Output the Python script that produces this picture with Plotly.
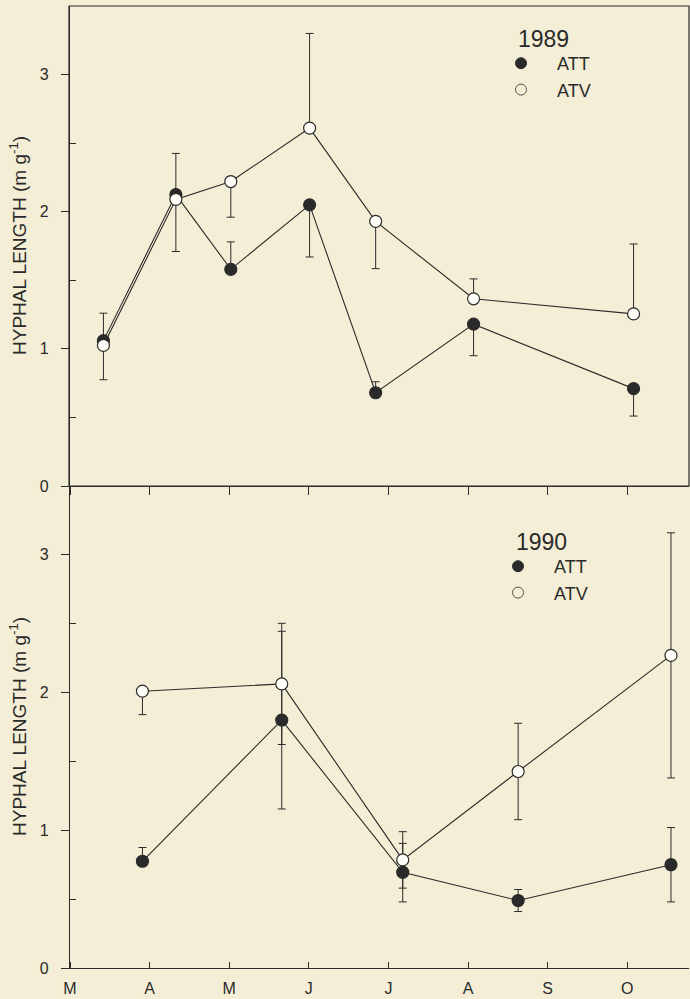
import plotly.graph_objects as go

# ---------------- data ----------------
month_labels = ["M", "A", "M", "J", "J", "A", "S", "O"]
month_ticks = [0, 1, 2, 3, 4, 5, 6, 7]

# 1989 (months after 1 March)
x89 = [0.42, 1.33, 2.02, 3.01, 3.84, 5.07, 7.08]
att89 = [1.06, 2.125, 1.58, 2.05, 0.68, 1.18, 0.71]
att89_plus = [0.20, 0.30, 0.20, 0.0, 0.08, 0.0, 0.0]
att89_minus = [0.0, 0.0, 0.0, 0.38, 0.0, 0.23, 0.20]
atv89 = [1.025, 2.09, 2.22, 2.61, 1.93, 1.365, 1.255]
atv89_plus = [0.0, 0.0, 0.0, 0.69, 0.0, 0.145, 0.51]
atv89_minus = [0.25, 0.38, 0.26, 0.0, 0.345, 0.0, 0.0]

# 1990
x90 = [0.91, 2.66, 4.18, 5.63, 7.55]
att90 = [0.775, 1.80, 0.695, 0.49, 0.75]
att90_plus = [0.10, 0.645, 0.21, 0.08, 0.27]
att90_minus = [0.0, 0.645, 0.215, 0.08, 0.27]
atv90 = [2.01, 2.063, 0.785, 1.427, 2.27]
atv90_plus = [0.0, 0.44, 0.205, 0.35, 0.89]
atv90_minus = [0.17, 0.44, 0.205, 0.35, 0.89]

# ---------------- style ----------------
W, H = 690, 999
BG = "#f5eed6"
INK = "#2a2a2a"
FONT = "Arial, Liberation Sans, sans-serif"

def px_x(p):
    return p / W

def px_y(p):
    return 1 - p / H

XDOM = [px_x(62), px_x(689)]
XRANGE = [(62 - 70) / 79.6, (689 - 70) / 79.6]
YPOS = px_x(69)
TOP_DOM = [px_y(486), px_y(6)]
BOT_DOM = [px_y(968), px_y(486)]

fig = go.Figure()

def add_series(x, y, plus, minus, filled, xa, ya, name, legend):
    fig.add_trace(go.Scatter(
        x=x, y=y, mode="lines+markers", xaxis=xa, yaxis=ya,
        showlegend=False,
        line=dict(color=INK, width=1.1),
        marker=dict(size=12, color=INK if filled else "#fffef8",
                    line=dict(color=INK, width=1.2)),
        error_y=dict(type="data", symmetric=False, array=plus, arrayminus=minus,
                     color=INK, thickness=1, width=4),
        cliponaxis=False,
    ))
    fig.add_trace(go.Scatter(
        x=[None], y=[None], mode="markers", xaxis=xa, yaxis=ya, name=name,
        legend=legend, showlegend=True,
        marker=dict(size=11, color=INK if filled else "rgba(0,0,0,0)",
                    line=dict(color="#555" if not filled else INK, width=1)),
    ))

add_series(x89, att89, att89_plus, att89_minus, True, "x", "y", "ATT", "legend")
add_series(x89, atv89, atv89_plus, atv89_minus, False, "x", "y", "ATV", "legend")
add_series(x90, att90, att90_plus, att90_minus, True, "x2", "y2", "ATT", "legend2")
add_series(x90, atv90, atv90_plus, atv90_minus, False, "x2", "y2", "ATV", "legend2")

axcommon = dict(showgrid=False, zeroline=False, linecolor=INK, linewidth=1.2,
                tickcolor=INK, tickwidth=1, automargin=False)

fig.update_layout(
    template="none",
    width=W, height=H, autosize=False,
    margin=dict(l=0, r=0, t=0, b=0, pad=0, autoexpand=False),
    paper_bgcolor=BG, plot_bgcolor=BG,
    font=dict(family=FONT, color=INK),
    xaxis=dict(domain=XDOM, range=XRANGE, anchor="y", showline=True,
               ticks="outside", ticklen=8, tickvals=month_ticks,
               showticklabels=False, **axcommon),
    xaxis3=dict(domain=XDOM, range=XRANGE, anchor="y", overlaying="x",
                showline=False, ticks="inside", ticklen=8, tickvals=month_ticks,
                showticklabels=False, **axcommon),
    xaxis2=dict(domain=XDOM, range=XRANGE, anchor="y2", showline=True,
                ticks="inside", ticklen=6, tickvals=month_ticks,
                ticktext=month_labels, tickfont=dict(size=16, color=INK),
                ticklabelstandoff=6, **axcommon),
    yaxis=dict(domain=TOP_DOM, range=[0, 3.5], anchor="free", position=YPOS,
               showline=True, ticks="outside", ticklen=8, tickvals=[0, 1, 2, 3],
               tickfont=dict(size=16, color=INK), ticklabelstandoff=9,
               minor=dict(ticks="inside", ticklen=6, tickvals=[0.5, 1.5, 2.5],
                          tickcolor=INK, showgrid=False),
               **axcommon),
    yaxis3=dict(domain=TOP_DOM, range=[0, 3.5], anchor="free", position=YPOS,
                overlaying="y", showline=False, ticks="inside", ticklen=5,
                tickvals=[0, 1, 2, 3], showticklabels=False, **axcommon),
    yaxis2=dict(domain=BOT_DOM, range=[0, 3.5], anchor="free", position=YPOS,
                showline=True, ticks="outside", ticklen=8, tickvals=[0, 1, 2, 3],
                tickfont=dict(size=16, color=INK), ticklabelstandoff=9,
                minor=dict(ticks="inside", ticklen=6, tickvals=[0.5, 1.5, 2.5],
                           tickcolor=INK, showgrid=False),
                **axcommon),
    yaxis4=dict(domain=BOT_DOM, range=[0, 3.5], anchor="free", position=YPOS,
                overlaying="y2", showline=False, ticks="inside", ticklen=8,
                tickvals=[0, 1, 2, 3], showticklabels=False, **axcommon),
    legend=dict(x=px_x(485), y=px_y(45), xanchor="left", yanchor="top",
                bgcolor="rgba(0,0,0,0)", borderwidth=0, itemwidth=62,
                font=dict(size=18, color=INK, family=FONT), tracegroupgap=0),
    legend2=dict(x=px_x(482), y=px_y(548), xanchor="left", yanchor="top",
                 bgcolor="rgba(0,0,0,0)", borderwidth=0, itemwidth=62,
                 font=dict(size=18, color=INK, family=FONT), tracegroupgap=0),
    showlegend=True,
)

# frame around the upper panel (top and right edges)
fig.add_shape(type="rect", xref="x domain", yref="y domain",
              x0=(69 - 62) / (689 - 62), x1=1, y0=0, y1=1,
              line=dict(color=INK, width=1.2), fillcolor="rgba(0,0,0,0)", layer="below")

title = "HYPHAL LENGTH (m g<sup>-1</sup>)"
for dom in (TOP_DOM, BOT_DOM):
    fig.add_annotation(text=title, xref="paper", yref="paper", x=px_x(18),
                       y=(dom[0] + dom[1]) / 2, textangle=-90, showarrow=False,
                       xanchor="center", yanchor="middle",
                       font=dict(size=19, color=INK, family=FONT))

fig.add_annotation(text="1989", xref="paper", yref="paper", x=px_x(516), y=px_y(39),
                   xanchor="left", yanchor="middle", showarrow=False,
                   font=dict(size=23, color=INK, family=FONT))
fig.add_annotation(text="1990", xref="paper", yref="paper", x=px_x(514), y=px_y(542),
                   xanchor="left", yanchor="middle", showarrow=False,
                   font=dict(size=23, color=INK, family=FONT))

fig.write_html("out.html",
               config={"displayModeBar": False},
               post_script="document.body.style.margin='0';document.body.style.padding='0';")
